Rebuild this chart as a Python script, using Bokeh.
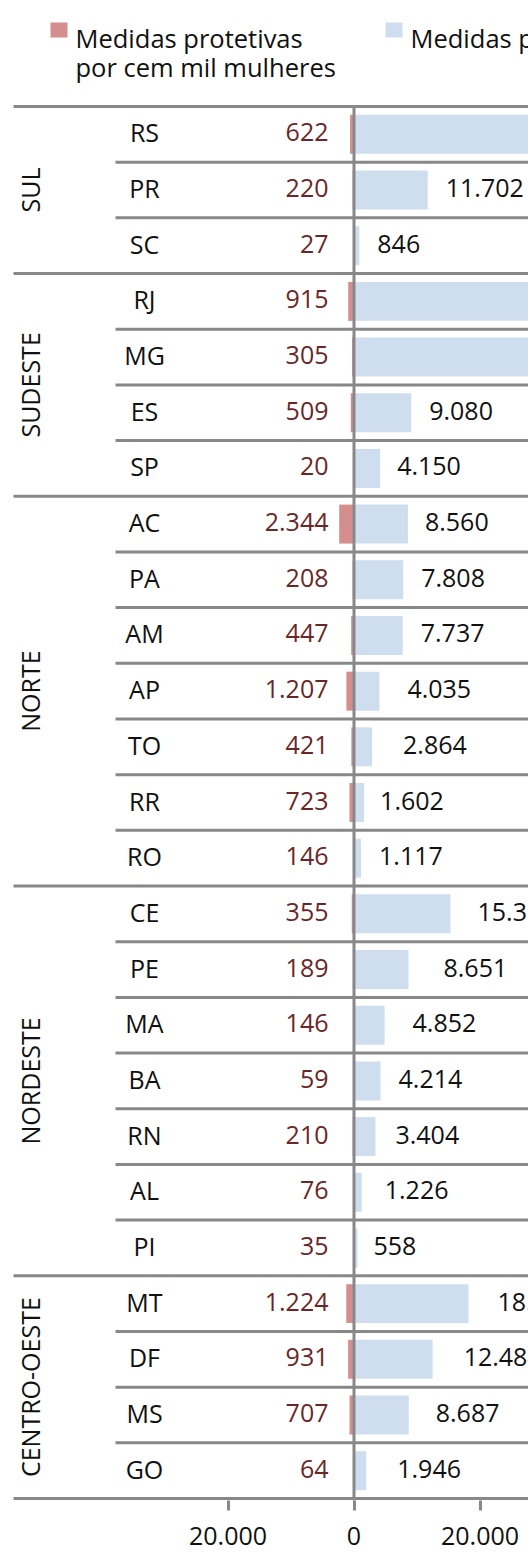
import math
from bokeh.plotting import figure
from bokeh.models import Range1d, FixedTicker
from bokeh.core.properties import value
from bokeh.embed import file_html
from bokeh.resources import INLINE

# ---------------- data ----------------
regions = ["SUL", "SUDESTE", "NORTE", "NORDESTE", "CENTRO-OESTE"]
region_sizes = [3, 4, 7, 7, 4]
states = ["RS", "PR", "SC", "RJ", "MG", "ES", "SP", "AC", "PA", "AM", "AP", "TO", "RR", "RO",
          "CE", "PE", "MA", "BA", "RN", "AL", "PI", "MT", "DF", "MS", "GO"]
rate_per_100k = [622, 220, 27, 915, 305, 509, 20, 2344, 208, 447, 1207, 421, 723, 146,
                 355, 189, 146, 59, 210, 76, 35, 1224, 931, 707, 64]
total_measures = [33500, 11702, 846, 38200, 35400, 9080, 4150, 8560, 7808, 7737, 4035, 2864, 1602, 1117,
                  15318, 8651, 4852, 4214, 3404, 1226, 558, 18174, 12484, 8687, 1946]
tick_values = [-20000, 0, 20000]
tick_labels = ["20.000", "0", "20.000"]
legend_rate = ["Medidas protetivas", "por cem mil mulheres"]
legend_total = ["Medidas protetivas"]

# ---------------- layout / style ----------------
FONT = value("Open Sans")
W, H = 528, 1554
BOTTOM_BORDER = 54
ZERO_PX = 353.5          # page x of the zero line
PX_PER_UNIT = 6.3 / 1000
TOP_LINE = 106.0         # page y of the top rule
ROW_PX = 55.68
FRAME_BOTTOM = H - BOTTOM_BORDER
# horizontal nudges (px) of the value labels, as placed in the original
label_nudge = [18, 18, 18, 18, 18, 18, 17, 17, 18, 18, 28, 31, 16, 18,
               27, 35, 28, 18, 20, 23, 16, 29, 31, 27, 31]

def xd(px):
    return (px - ZERO_PX) / PX_PER_UNIT

def yd(py):
    return (py - TOP_LINE) / ROW_PX

n = len(states)
x_start, x_end = xd(0), xd(W)
y_top, y_bottom = yd(0), yd(FRAME_BOTTOM)

BLUE = "#cfdeee"
RED = "#d48e8e"
MAROON = "#6b2727"
GRAY = "#88888b"
BLACK = "#111111"
FS = "25px"

p = figure(width=W, height=H, output_backend="svg", toolbar_location=None,
           x_range=Range1d(x_start, x_end), y_range=Range1d(y_bottom, y_top),
           min_border_left=0, min_border_right=0, min_border_top=0,
           min_border_bottom=BOTTOM_BORDER)
p.outline_line_color = None
p.grid.visible = False
p.yaxis.visible = False
p.background_fill_color = "white"
p.border_fill_color = "white"

centers = [i + 0.5 for i in range(n)]

# bars
p.hbar(y=centers, left=0, right=total_measures, height=0.7, color=BLUE, line_color=None)
p.hbar(y=centers, left=[-v for v in rate_per_100k], right=0, height=0.7, color=RED, line_color=None)

# rules
boundaries = [0]
for s in region_sizes:
    boundaries.append(boundaries[-1] + s)
gy = sorted(set(boundaries))
p.segment(x0=[xd(13)] * len(gy), x1=[x_end] * len(gy), y0=gy, y1=gy,
          line_color=GRAY, line_width=3)
ry = [i for i in range(1, n) if i not in gy]
p.segment(x0=[xd(115)] * len(ry), x1=[x_end] * len(ry), y0=ry, y1=ry,
          line_color=GRAY, line_width=3)
p.segment(x0=[0], x1=[0], y0=[0], y1=[y_bottom], line_color=GRAY, line_width=3)

def fmt(v):
    return f"{v:,}".replace(",", ".")

# state labels
p.text(x=[xd(144)] * n, y=centers, y_offset=-2, text=states, text_font=FONT, text_font_size=FS,
       text_color=BLACK, text_align="center", text_baseline="middle")
# rate labels
p.text(x=[xd(328)] * n, y=centers, y_offset=-2, text=[fmt(v) for v in rate_per_100k], text_font=FONT,
       text_font_size=FS, text_color=MAROON, text_align="right", text_baseline="middle")
# total labels
p.text(x=total_measures, y=centers, x_offset=label_nudge, y_offset=-2,
       text=[fmt(v) for v in total_measures],
       text_font=FONT, text_font_size=FS, text_color=BLACK, text_align="left",
       text_baseline="middle")

# region labels (rotated)
gc = [(boundaries[i] + boundaries[i + 1]) / 2 for i in range(len(regions))]
p.text(x=[xd(29)] * len(regions), y=gc, text=regions, angle=math.pi / 2, text_font=FONT,
       text_font_size=FS, text_color=BLACK, text_align="center", text_baseline="middle")

# legend
p.rect(x=[xd(58.5), xd(393.5)], y=[yd(29.5), yd(29.5)], width=17, height=15,
       width_units="screen", height_units="screen", color=[RED, BLUE], line_color=None)
p.text(x=[xd(75), xd(75)], y=[yd(37), yd(66)], text=legend_rate, text_font=FONT,
       text_font_size="25.5px", text_color=BLACK, text_align="left", text_baseline="alphabetic")
p.text(x=[xd(410)], y=[yd(37)], text=legend_total, text_font=FONT,
       text_font_size="25.5px", text_color=BLACK, text_align="left", text_baseline="alphabetic")

# x axis
ax = p.xaxis[0]
ax.ticker = FixedTicker(ticks=tick_values)
ax.major_label_overrides = {t: l for t, l in zip(tick_values, tick_labels)}
ax.axis_line_color = None
ax.major_tick_in = 0
ax.major_tick_out = 10
ax.major_tick_line_width = 3
ax.major_tick_line_color = GRAY
ax.minor_tick_line_color = None
ax.major_label_text_font = "Open Sans"
ax.major_label_text_font_size = FS
ax.major_label_text_color = BLACK
ax.major_label_standoff = 16

open("out.html", "w").write(file_html(p, INLINE))
